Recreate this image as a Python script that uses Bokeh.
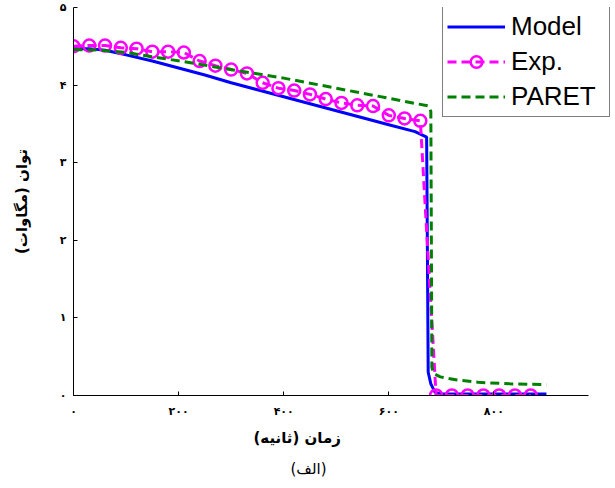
from bokeh.plotting import figure
from bokeh.models import Range1d, Legend, LegendItem, FixedTicker, Title
from bokeh.embed import file_html
from bokeh.resources import INLINE

# ---- data (time in s, power in MW) ----
t_model = [0, 30, 60, 100, 150, 200, 250, 300, 350, 400, 450, 500, 550, 600, 650, 672, 675, 680, 688, 700, 800, 900]
v_model = [4.47, 4.47, 4.45, 4.39, 4.31, 4.22, 4.13, 4.03, 3.94, 3.85, 3.76, 3.67, 3.58, 3.49, 3.40, 3.33, 0.30, 0.15, 0.04, 0.02, 0.02, 0.02]

t_exp = [0, 30, 60, 90, 120, 150, 180, 210, 240, 270, 300, 330, 360, 390, 420, 450, 480, 510, 540, 570, 600, 630, 660,
         690, 720, 750, 780, 810, 840, 870]
v_exp = [4.50, 4.51, 4.51, 4.48, 4.47, 4.43, 4.43, 4.42, 4.31, 4.25, 4.20, 4.15, 4.03, 3.96, 3.93, 3.88, 3.82, 3.77, 3.74, 3.73, 3.61, 3.57, 3.54,
         0.0, 0.0, 0.0, 0.0, 0.0, 0.0, 0.0]

t_paret = [0, 50, 100, 165, 230, 290, 355, 400, 500, 600, 676, 680, 682, 686, 698, 730, 770, 830, 900]
v_paret = [4.46, 4.45, 4.42, 4.35, 4.28, 4.21, 4.14, 4.09, 3.96, 3.83, 3.73, 3.66, 0.36, 0.28, 0.24, 0.20, 0.17, 0.15, 0.14]

x_ticks = [0, 200, 400, 600, 800]
x_tick_labels = ["۰", "۲۰۰", "۴۰۰", "۶۰۰", "۸۰۰"]
y_ticks = [0, 1, 2, 3, 4, 5]
y_tick_labels = ["۰", "۱", "۲", "۳", "۴", "۵"]

x_label = "زمان (ثانیه)"
y_label = "توان (مگاوات)"
caption = "(الف)"

series_names = ["Model", "Exp.", "PARET"]

BLUE = "#0000FF"
MAGENTA = "#FF00FF"
GREEN = "#008000"
AR_FONT = "DejaVu Sans"

p = figure(width=612, height=486,
           x_range=Range1d(0, 1023.8), y_range=Range1d(0, 5),
           output_backend="svg", toolbar_location=None,
           min_border_left=73, min_border_right=1,
           min_border_top=7, min_border_bottom=91)
p.background_fill_color = "white"
p.border_fill_color = "white"
p.outline_line_color = None
p.grid.grid_line_color = None

r_model = p.line(t_model, v_model, line_color=BLUE, line_width=3)
r_exp_line = p.line(t_exp, v_exp, line_color=MAGENTA, line_width=3, line_dash="9 5")
r_exp_pts = p.scatter(t_exp, v_exp, marker="circle", size=12, line_color=MAGENTA,
                      line_width=2.5, fill_color=None)
r_paret = p.line(t_paret, v_paret, line_color=GREEN, line_width=3, line_dash="9 5")

# axes
for ax in (p.xaxis[0], p.yaxis[0]):
    ax.axis_line_color = "black"
    ax.axis_line_width = 1
    ax.major_tick_in = 4
    ax.major_tick_out = 0
    ax.minor_tick_line_color = None
    ax.major_tick_line_color = "black"
    ax.major_label_text_font = AR_FONT
    ax.major_label_text_font_style = "bold"
    ax.major_label_text_font_size = "11px"
    ax.major_label_text_color = "black"

p.xaxis.bounds = (0, 980)
p.xaxis.ticker = FixedTicker(ticks=x_ticks)
p.xaxis.major_label_overrides = {t: s for t, s in zip(x_ticks, x_tick_labels)}
p.xaxis.major_label_standoff = 9

p.yaxis.ticker = FixedTicker(ticks=y_ticks)
p.yaxis.major_label_overrides = {t: s for t, s in zip(y_ticks, y_tick_labels)}
p.yaxis.major_label_standoff = 7
p.yaxis.axis_label = y_label
p.yaxis.axis_label_text_font = AR_FONT
p.yaxis.axis_label_text_font_style = "bold"
p.yaxis.axis_label_text_font_size = "15px"
p.yaxis.axis_label_text_color = "black"
p.yaxis.axis_label_standoff = 26

# x title and caption below the axis
p.add_layout(Title(text=x_label, align="left", offset=180, standoff=12,
                   text_font=AR_FONT, text_font_style="bold", text_font_size="15px",
                   text_color="black"), "below")
p.add_layout(Title(text=caption, align="left", offset=217, standoff=11,
                   text_font=AR_FONT, text_font_style="normal", text_font_size="15px",
                   text_color="black"), "below")

legend = Legend(items=[LegendItem(label=series_names[0], renderers=[r_model]),
                       LegendItem(label=series_names[1], renderers=[r_exp_line, r_exp_pts]),
                       LegendItem(label=series_names[2], renderers=[r_paret])],
                location=(369, 278))
legend.label_text_font = "Liberation Sans"
legend.label_text_font_size = "26px"
legend.label_text_color = "black"
legend.glyph_width = 58
legend.glyph_height = 29
legend.label_height = 29
legend.label_width = 94
legend.label_standoff = 6
legend.spacing = 4
legend.padding = 4
legend.margin = 0
legend.border_line_color = "black"
legend.border_line_width = 1
legend.background_fill_color = "white"
legend.background_fill_alpha = 1.0
p.add_layout(legend, "center")

open("out.html", "w").write(file_html(p, INLINE))
